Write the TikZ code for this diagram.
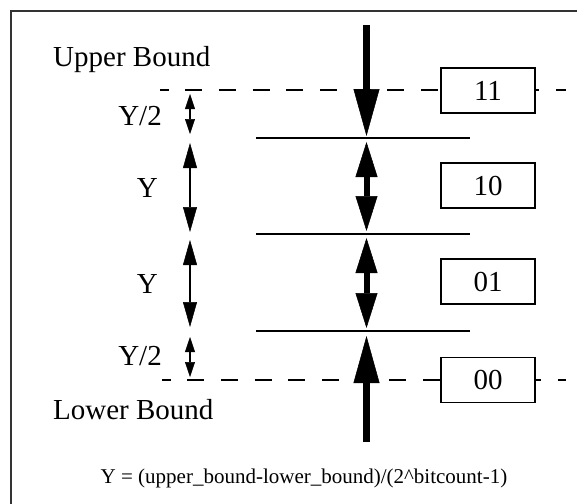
\documentclass[tikz,border=0pt]{standalone}
\usepackage{fontspec}
\setmainfont{Liberation Serif}
\usepackage{tikz}
\usetikzlibrary{arrows.meta,positioning,calc}

\tikzset{
  lbl/.style={inner sep=0pt,font=\fontsize{29}{34}\selectfont},
  codebox/.style={draw,fill=white,line width=1.2pt,minimum width=94pt,minimum height=45pt,inner sep=0pt,font=\fontsize{29}{34}\selectfont},
  boundline/.style={line width=1.3pt,dash pattern=on 17pt off 16.7pt,dash phase=8.5pt},
  levelline/.style={line width=1.3pt},
  bigarrow/.style={line width=6.5pt,-{Triangle[length=47pt,width=26pt,line width=0.5pt]}},
  midarrow/.style={line width=6pt,{Triangle[length=35pt,width=22pt,line width=0.5pt]}-{Triangle[length=35pt,width=22pt,line width=0.5pt]}},
  halfarrow/.style={line width=1.2pt,{Triangle[length=15pt,width=10pt,line width=0.5pt]}-{Triangle[length=15pt,width=10pt,line width=0.5pt]}},
  fullarrow/.style={line width=1.5pt,{Triangle[length=25pt,width=14pt,line width=0.5pt]}-{Triangle[length=25pt,width=14pt,line width=0.5pt]}}
}

\begin{document}
\begin{tikzpicture}[x=1pt,y=-1pt]
      \useasboundingbox (0,0) rectangle (577,503);
      \clip (0,0) rectangle (577,503);
      \fill[white] (0,0) rectangle (577,503);
      % frame, runs past the right and bottom edges
      \draw[line width=2.2pt,black!80] (11,11) rectangle (640,580);
      % upper and lower bound
      \coordinate (ubL) at (160,90);
      \coordinate (ubR) at (566,90);
      \coordinate (lbL) at (162,380);
      \coordinate (lbR) at (566,380);
      \draw[boundline] (ubL) -- (ubR);
      \draw[boundline] (lbL) -- (lbR);
      % levels between the codes
      \draw[levelline] (256,138) coordinate (l1L) -- (470,138) coordinate (l1R);
      \draw[levelline] (256,234) coordinate (l2L) -- (470,234) coordinate (l2R);
      \draw[levelline] (256,331) coordinate (l3L) -- (470,331) coordinate (l3R);
      % codes
      \node[codebox] (c11) at (488,90.5) {11};
      \node[codebox] (c10) at (488,185.5) {10};
      \node[codebox] (c01) at (488,281.5) {01};
      \node[codebox] (c00) at (488,380) {00};
      % labels
      \node[lbl,anchor=base west] (ub) at (53,66) {Upper Bound};
      \node[lbl,anchor=base west] (lb) at (53,419) {Lower Bound};
      \node[lbl,anchor=base east] (h1) at (162,125) {Y/2};
      \node[lbl,anchor=base east] (y1) at (158,197) {Y};
      \node[lbl,anchor=base east] (y2) at (158,293) {Y};
      \node[lbl,anchor=base east] (h2) at (162,365) {Y/2};
      \node[inner sep=0pt,anchor=base,font=\fontsize{21}{25}\selectfont] (eq) at (304,483)
        {Y = (upper\_bound-lower\_bound)/(2\textasciicircum bitcount-1)};
      % thick arrows
      \coordinate (t0) at (366.5,25);
      \coordinate (t1) at (366.5,136);
      \coordinate (m1) at (366.5,142);
      \coordinate (m2) at (366.5,231);
      \coordinate (m3) at (366.5,238);
      \coordinate (m4) at (366.5,328);
      \coordinate (b1) at (366.5,336);
      \coordinate (b0) at (366.5,442);
      \draw[bigarrow] (t0) -- (t1);
      \draw[midarrow] (m1) -- (m2);
      \draw[midarrow] (m3) -- (m4);
      \draw[bigarrow] (b0) -- (b1);
      % spacing arrows
      \coordinate (s1) at (190,94);
      \coordinate (s2) at (190,134);
      \coordinate (s3) at (190,143);
      \coordinate (s4) at (190,232);
      \coordinate (s5) at (190,240);
      \coordinate (s6) at (190,327);
      \coordinate (s7) at (190,337);
      \coordinate (s8) at (190,377);
      \draw[halfarrow] (s1) -- (s2);
      \draw[fullarrow] (s3) -- (s4);
      \draw[fullarrow] (s5) -- (s6);
      \draw[halfarrow] (s7) -- (s8);
\end{tikzpicture}
\end{document}
